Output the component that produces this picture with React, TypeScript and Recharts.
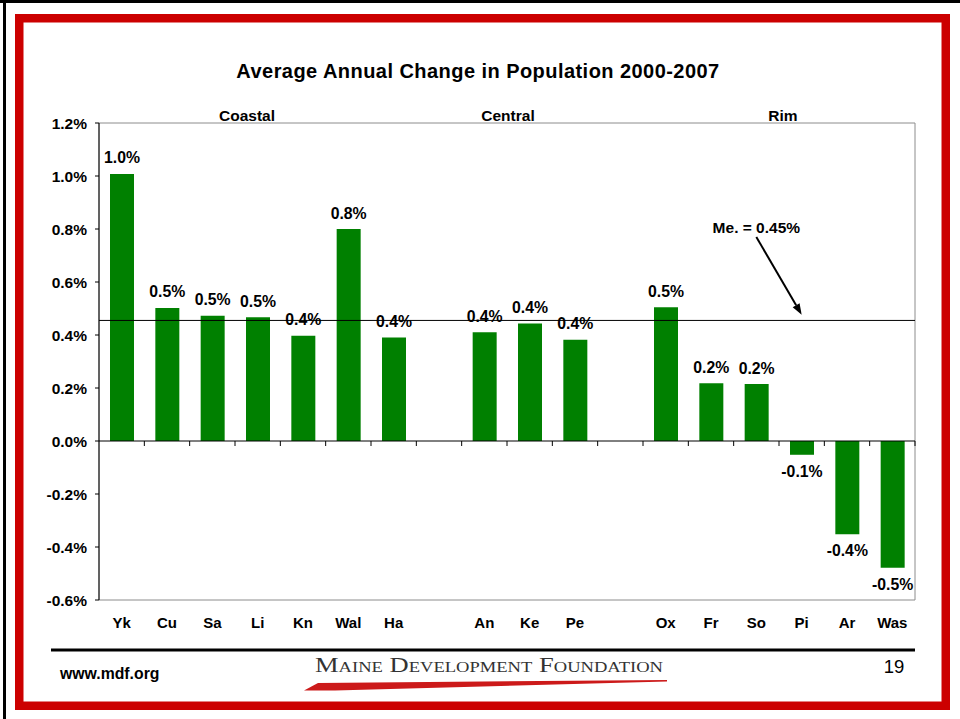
import { BarChart, Bar, XAxis, YAxis, ReferenceLine, ReferenceArea, LabelList } from "recharts";

const FONT = "'Liberation Sans', Arial, Helvetica, sans-serif";

// regions in order, blank slots separate the groups
const categories = ["Yk", "Cu", "Sa", "Li", "Kn", "Wal", "Ha", "", "An", "Ke", "Pe", " ", "Ox", "Fr", "So", "Pi", "Ar", "Was"];
const changes = [1.008, 0.502, 0.473, 0.467, 0.397, 0.8, 0.391, null, 0.41, 0.443, 0.382, null, 0.505, 0.218, 0.215, -0.052, -0.352, -0.478];
const groupLabels = ["Coastal", "Central", "Rim"];
const yTicks = [-0.6, -0.4, -0.2, 0, 0.2, 0.4, 0.6, 0.8, 1.0, 1.2];
const minorTicks = Array.from({ length: 46 }, (_, i) => -0.6 + i * 0.04);
const meanLine = 0.455;
const meanLabel = "Me. = 0.45%";
const arrowFrom = { x: "So", y: 0.77 };
const arrowTo = { x: "Pi", y: 0.476 };

const data = categories.map((name, i) => ({ name, value: changes[i] }));

const BarValueLabel = (props: any) => {
    const { x, y, width, height, value } = props;
    if (value == null) return null;
    const top = Math.min(y, y + height);
    const bottom = Math.max(y, y + height);
    const cx = x + width / 2;
    return (
        <text
            x={cx}
            y={value >= 0 ? top - 10.5 : bottom + 22}
            textAnchor="middle"
            fontFamily={FONT}
            fontSize={15.8}
            fontWeight={700}
            fill="#000"
        >
            {`${value.toFixed(1)}%`}
        </text>
    );
};

// horizontal axis crossing at zero, with ticks between categories
const ZeroAxis = (props: any) => {
    const { x1, x2, y1 } = props;
    const step = (x2 - x1) / categories.length;
    return (
        <g>
            <line x1={x1} y1={y1} x2={x2} y2={y1} stroke="#000" strokeWidth={1} />
            {categories.map((_, i) => {
                const x = x1 + step * (i + 1);
                return <line key={i} x1={x} x2={x} y1={y1} y2={y1 + 5} stroke="#000" strokeWidth={1} />;
            })}
        </g>
    );
};

const MeanArrow = (props: any) => {
    const { x1, y1, x2, y2 } = props;
    const ang = Math.atan2(y2 - y1, x2 - x1);
    const len = 11;
    const half = 4;
    const bx = x2 - len * Math.cos(ang);
    const by = y2 - len * Math.sin(ang);
    const pts = [
        `${x2},${y2}`,
        `${bx + half * Math.sin(ang)},${by - half * Math.cos(ang)}`,
        `${bx - half * Math.sin(ang)},${by + half * Math.cos(ang)}`,
    ].join(" ");
    return (
        <g>
            <text x={x1} y={y1 - 4} textAnchor="middle" fontFamily={FONT} fontSize={15.5} fontWeight={700} fill="#000">
                {meanLabel}
            </text>
            <line x1={x1} y1={y1} x2={bx} y2={by} stroke="#000" strokeWidth={2} />
            <polygon points={pts} fill="#000" />
        </g>
    );
};

function Slide() {
    return (
        <svg width={960} height={719} style={{ position: "absolute", left: 0, top: 0 }}>
            <rect x={0} y={0} width={960} height={719} fill="#fff" />
            <rect x={0} y={0} width={960} height={3} fill="#000" />
            <rect x={3} y={0} width={3} height={719} fill="#000" />
            <rect x={19.25} y={18.25} width={926.5} height={687.5} fill="none" stroke="#cc0000" strokeWidth={8.5} />
            <text
                x={478}
                y={78}
                textAnchor="middle"
                fontFamily={FONT}
                fontSize={20}
                fontWeight={700}
                letterSpacing={0.45}
            >
                Average Annual Change in Population 2000-2007
            </text>
            {groupLabels.map((g, i) => (
                <text
                    key={g}
                    x={[247, 508, 783][i]}
                    y={120.5}
                    textAnchor="middle"
                    fontFamily={FONT}
                    fontSize={15.5}
                    fontWeight={700}
                >
                    {g}
                </text>
            ))}
            <rect x={51} y={648.5} width={864} height={3} fill="#000" />
            <text x={60} y={679} fontFamily={FONT} fontSize={15.8} fontWeight={700}>
                www.mdf.org
            </text>
            <text x={894} y={673} textAnchor="middle" fontFamily={FONT} fontSize={18.5}>
                19
            </text>
            <text
                x={315}
                y={671.5}
                fontFamily="'Liberation Serif', 'DejaVu Serif', serif"
                fontSize={20}
                fill="#333"
                style={{ fontVariant: "small-caps" }}
                textLength={348}
                lengthAdjust="spacingAndGlyphs"
            >
                Maine Development Foundation
            </text>
            <polygon points="304,690.5 318,683 667,680 667,681.5 335,690.5" fill="#cc1a1a" />
        </svg>
    );
}

export default function App() {
    return (
        <div style={{ position: "absolute", left: 0, top: 0, width: 960, height: 719, background: "#fff" }}>
            <Slide />
            <div style={{ position: "absolute", left: 0, top: 0 }}>
                <BarChart
                    width={960}
                    height={719}
                    data={data}
                    margin={{ top: 123, right: 45, bottom: 89, left: 40 }}
                >
                    <ReferenceArea y1={-0.6} y2={1.2} fill="none" stroke="#8c8c8c" strokeWidth={1} ifOverflow="visible" />
                    <XAxis
                        dataKey="name"
                        interval={0}
                        height={30}
                        axisLine={false}
                        tickLine={false}
                        tickSize={0}
                        tickMargin={17}
                        tick={{ fill: "#000", fontSize: 15, fontWeight: 700, fontFamily: FONT }}
                    />
                    <YAxis
                        width={59}
                        domain={[-0.6, 1.2]}
                        ticks={yTicks}
                        interval={0}
                        allowDataOverflow
                        axisLine={{ stroke: "#000" }}
                        tickLine={{ stroke: "#000" }}
                        tickSize={4}
                        tickMargin={8}
                        tickFormatter={(v: number) => `${v.toFixed(1)}%`}
                        tick={{ fill: "#000", fontSize: 15.5, fontWeight: 700, fontFamily: FONT }}
                    />
                    <YAxis
                        yAxisId="minor"
                        width={0}
                        mirror
                        domain={[-0.6, 1.2]}
                        ticks={minorTicks}
                        interval={0}
                        allowDataOverflow
                        axisLine={false}
                        tickLine={{ stroke: "#000" }}
                        tickSize={4}
                        tick={false}
                    />
                    <Bar dataKey="value" fill="#008000" barSize={24} isAnimationActive={false}>
                        <LabelList dataKey="value" content={BarValueLabel} />
                    </Bar>
                    <ReferenceLine y={0} shape={ZeroAxis} />
                    <ReferenceLine y={meanLine} stroke="#000" strokeWidth={1} />
                    <ReferenceLine segment={[arrowFrom, arrowTo]} shape={MeanArrow} />
                </BarChart>
            </div>
        </div>
    );
}
